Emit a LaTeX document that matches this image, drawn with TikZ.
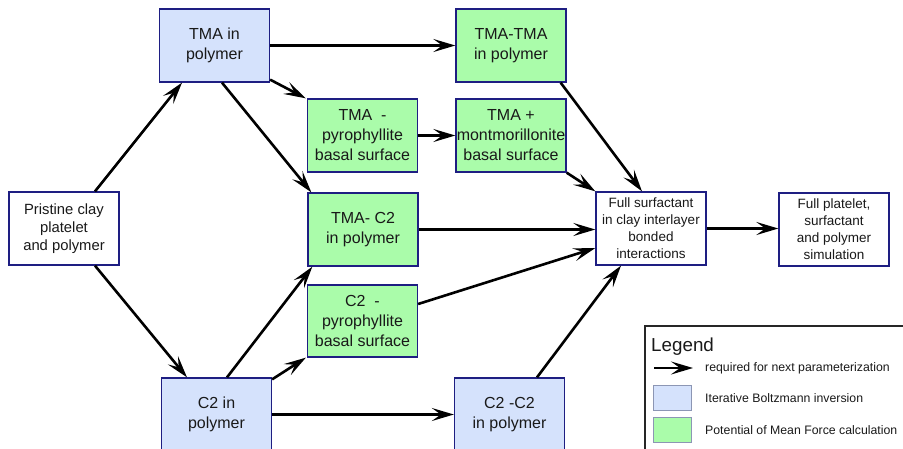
\documentclass[tikz,border=0pt]{standalone}
\usepackage{fontspec}
\setmainfont{Liberation Sans}
\usetikzlibrary{arrows.meta}
\definecolor{boxline}{RGB}{30,30,130}
\definecolor{ibifill}{RGB}{213,226,252}
\definecolor{pmffill}{RGB}{170,252,170}
\definecolor{swatchline}{RGB}{140,150,180}
\begin{document}
\begin{tikzpicture}[x=1pt,y=-1pt,
  box/.style={draw=boxline,line width=1.3pt,rectangle,inner sep=0pt,
    minimum width=110pt,minimum height=73pt,align=center,text=black!90},
  bigtext/.style={font=\fontsize{16}{20}\selectfont},
  smalltext/.style={font=\fontsize{13.5}{17}\selectfont},
  ibi/.style={box,bigtext,fill=ibifill},
  pmf/.style={box,bigtext,fill=pmffill},
  plain/.style={box,smalltext,fill=white},
  flow/.style={draw=black,line width=2.6pt,
    -{Stealth[length=22pt,width=13pt,inset=9pt]}},
  swatch/.style={draw=swatchline,line width=1pt,rectangle,inner sep=0pt,
    minimum width=38pt,minimum height=25pt},
  legtext/.style={anchor=west,inner sep=0pt,text=black!90,
    font=\fontsize{12.3}{15}\selectfont}
]
\useasboundingbox (0,0) rectangle (903,448);

% stage boxes
\node[plain,font=\fontsize{14.8}{18.3}\selectfont] (pristine) at (64,228.5)
  {Pristine clay\\platelet\\and polymer};
\node[ibi] (tma) at (214.5,45.5) {TMA in\\polymer};
\node[ibi] (c2) at (216.5,414.5) {C2 in\\polymer};
\node[pmf] (tmapyro) at (362.5,135.5) {TMA~~-\\pyrophyllite\\basal surface};
\node[pmf] (tmac2) at (363,229.5) {TMA- C2\\in polymer};
\node[pmf,minimum height=72pt] (c2pyro) at (362.5,321) {C2~~-\\pyrophyllite\\basal surface};
\node[pmf] (tmatma) at (511,45.5) {TMA-TMA\\in polymer};
\node[pmf] (tmamont) at (511,135.5) {TMA +\\montmorillonite\\basal surface};
\node[ibi] (c2c2) at (509.5,414.5) {C2 -C2\\in polymer};
\node[plain] (full) at (651,228.5) {Full surfactant\\in clay interlayer\\bonded\\interactions};
\node[plain] (fullp) at (834,229.5) {Full platelet,\\surfactant\\and polymer\\simulation};

% dependencies
\draw[flow] ([xshift=31pt]pristine.north) -- ([xshift=-32.5pt]tma.south);
\draw[flow] ([xshift=31pt]pristine.south) -- ([xshift=-29.5pt]c2.north);
\draw[flow] (tma.east) -- (tmatma.west);
\draw[flow] ([yshift=3pt]tma.south east) -- ([xshift=-1pt]tmapyro.north west);
\draw[flow] ([xshift=7.5pt]tma.south) -- ([xshift=4pt]tmac2.north west);
\draw[flow] (tmapyro.east) -- (tmamont.west);
\draw[flow] ([xshift=-6pt]tmatma.south east) -- ([xshift=-9pt]full.north);
\draw[flow] (tmamont.south east) -- (full.north west);
\draw[flow] (tmac2.east) -- (tmac2.east -| full.west);
\draw[flow] ([yshift=17pt]c2pyro.east) -- ([yshift=-19.5pt]full.west);
\draw[flow] ([xshift=10.5pt]c2.north) -- ([xshift=5pt]tmac2.south west);
\draw[flow] ([yshift=-2pt]c2.north east) -- ([xshift=-1pt]c2pyro.south west);
\draw[flow] (c2.east) -- (c2c2.west);
\draw[flow] ([xshift=27.5pt]c2c2.north) -- ([xshift=-30pt]full.south);
\draw[flow] (full.east) -- (full.east -| fullp.west);

% legend
\node[draw=black!85,line width=2pt,rectangle,inner sep=0pt,anchor=north west,
  minimum width=280pt,minimum height=140pt] (legend) at (644,325) {};
\node[anchor=west,inner sep=0pt,text=black!90,font=\fontsize{18.8}{22}\selectfont]
  (legtitle) at (651,347) {Legend};
\coordinate (legfrom) at (654,368);
\coordinate (legto) at (693,368);
\draw[flow] (legfrom) -- (legto);
\node[legtext] (legarrow) at (705,368) {required for next parameterization};
\node[swatch,fill=ibifill] (swibi) at (672.5,397.5) {};
\node[legtext] (legibi) at (705,398.5) {Iterative Boltzmann inversion};
\node[swatch,fill=pmffill] (swpmf) at (672.5,429.5) {};
\node[legtext] (legpmf) at (705,430) {Potential of Mean Force calculation};
\end{tikzpicture}
\end{document}
